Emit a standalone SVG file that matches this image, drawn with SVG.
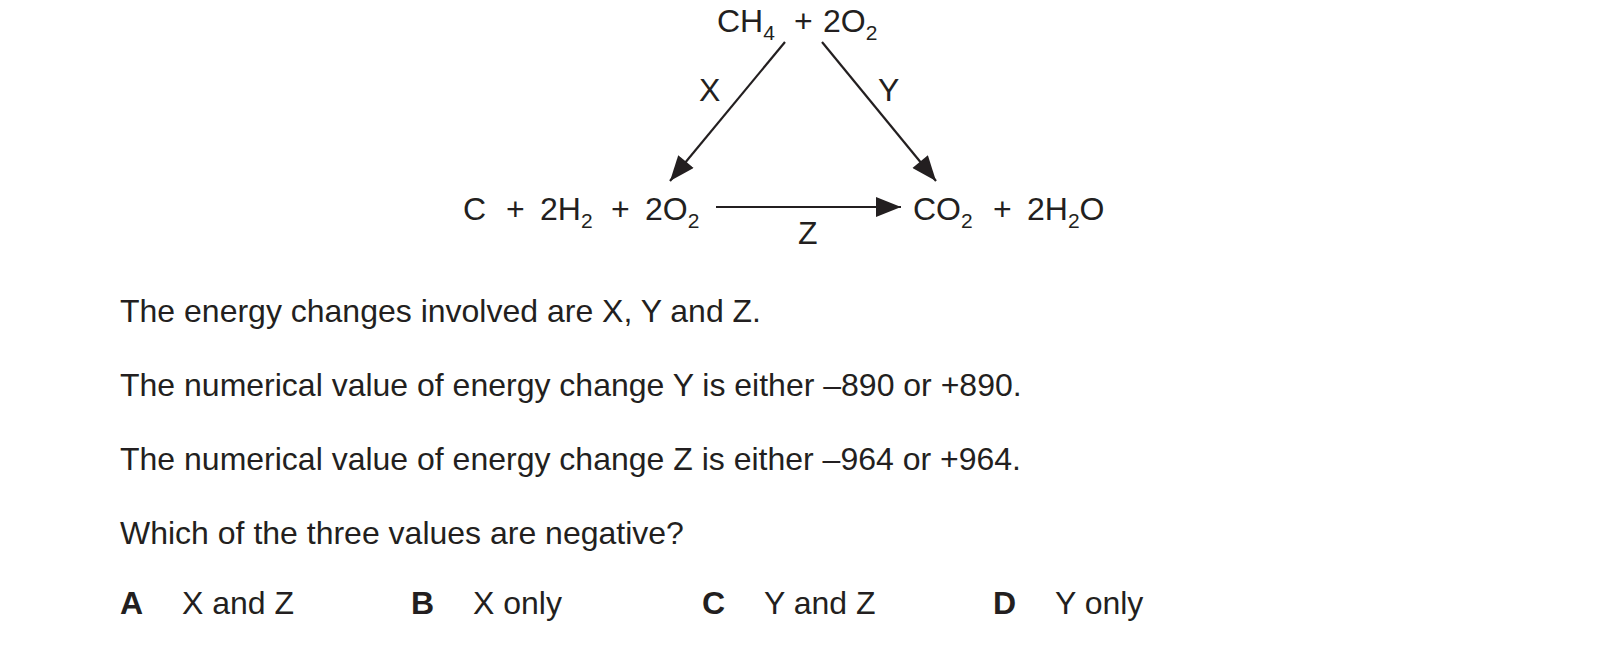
<svg xmlns="http://www.w3.org/2000/svg" width="1605" height="653" viewBox="0 0 1605 653">
<style>
text{font-family:"Liberation Sans",Arial,sans-serif;font-size:32px;fill:#231f20}
.s{font-size:21px}
.b{font-weight:bold}
.c{stroke:#231f20;stroke-width:2.2;fill:none}
</style>
<defs><marker id="h" viewBox="0 0 10 8" refX="10" refY="4" markerWidth="26" markerHeight="20" orient="auto" markerUnits="userSpaceOnUse"><path d="M0,0 L10,4 L0,8 z" fill="#231f20"/></marker></defs>
<g id="n1"><text x="717" y="32">CH<tspan class="s" dy="8">4</tspan><tspan dy="-8" x="794">+</tspan><tspan x="823">2O</tspan><tspan class="s" dy="8">2</tspan></text></g>
<g id="n2"><text x="463" y="220">C<tspan x="506">+</tspan><tspan x="540">2H</tspan><tspan class="s" dy="8">2</tspan><tspan dy="-8" x="611">+</tspan><tspan x="645">2O</tspan><tspan class="s" dy="8">2</tspan></text></g>
<g id="n3"><text x="913" y="220">CO<tspan class="s" dy="8">2</tspan><tspan dy="-8" x="993">+</tspan><tspan x="1027">2H</tspan><tspan class="s" dy="8">2</tspan><tspan dy="-8">O</tspan></text></g>
<g id="connectors">
<line class="c" x1="785" y1="42" x2="670" y2="181" marker-end="url(#h)"/>
<line class="c" x1="822" y1="42" x2="936" y2="181" marker-end="url(#h)"/>
<line class="c" x1="716" y1="207" x2="901" y2="207" marker-end="url(#h)"/>
<text x="699" y="101">X</text><text x="878" y="101">Y</text><text x="798" y="244">Z</text>
</g>
<text x="120" y="322">The energy changes involved are X, Y and Z.</text>
<text x="120" y="396">The numerical value of energy change Y is either –890 or +890.</text>
<text x="120" y="470">The numerical value of energy change Z is either –964 or +964.</text>
<text x="120" y="544">Which of the three values are negative?</text>
<text x="120" y="614" class="b">A</text><text x="182" y="614">X and Z</text>
<text x="411" y="614" class="b">B</text><text x="473" y="614">X only</text>
<text x="702" y="614" class="b">C</text><text x="764" y="614">Y and Z</text>
<text x="993" y="614" class="b">D</text><text x="1055" y="614">Y only</text>
</svg>
